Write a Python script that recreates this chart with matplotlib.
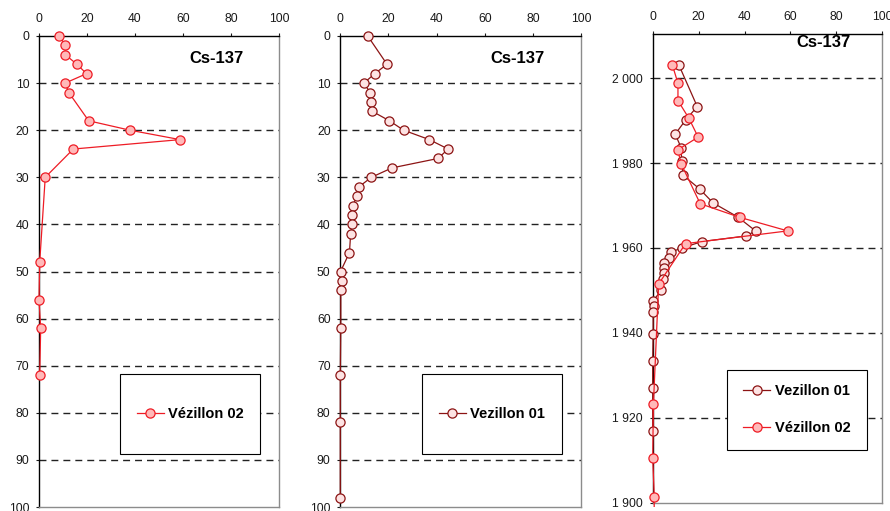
import matplotlib
matplotlib.use("Agg")
import matplotlib.pyplot as plt
from matplotlib.patches import Rectangle
from matplotlib.lines import Line2D

plt.rcParams['font.family'] = ['Liberation Sans', 'DejaVu Sans']

# Cs-137 activity profiles
v02_depth = [0, 2, 4, 6, 8, 10, 12, 18, 20, 22, 24, 30, 48, 56, 62, 72]
v02_cs = [8.5, 11.0, 11.0, 15.8, 19.8, 10.9, 12.4, 20.7, 37.9, 58.8, 14.3, 2.6, 0.3, 0.0, 0.7, 0.3]
v02_year = [2003.2, 1998.8, 1994.7, 1990.5, 1986.1, 1983.1, 1979.8, 1970.4,
            1967.2, 1964.0, 1961.0, 1951.5, 1923.1, 1910.5, 1901.2, 1885.0]

v01_depth = [0, 6, 8, 10, 12, 14, 16, 18, 20, 22, 24, 26, 28, 30, 32, 34, 36,
             38, 40, 42, 46, 50, 52, 54, 62, 72, 82, 98]
v01_cs = [11.4, 19.4, 14.3, 9.8, 12.4, 12.6, 13.3, 20.4, 26.3, 37.0, 44.8, 40.6,
          21.5, 12.9, 7.8, 7.0, 5.1, 4.9, 5.0, 4.3, 3.8, 0.1, 0.5, 0.2, 0.2, 0.0, 0.0, 0.0]
v01_year = [2003.1, 1993.3, 1990.1, 1986.8, 1983.6, 1980.5, 1977.1, 1973.9,
            1970.6, 1967.3, 1964.0, 1962.8, 1961.5, 1960.0, 1959.0, 1957.7,
            1956.5, 1955.3, 1954.1, 1952.6, 1950.0, 1947.5, 1946.4, 1945.0,
            1939.8, 1933.3, 1927.0, 1916.8]

x_ticks = [0, 20, 40, 60, 80, 100]
depth_ticks = list(range(0, 101, 10))
year_ticks = list(range(1900, 2001, 20))
year_labels = [f"{y // 1000} {y % 1000:03d}" for y in year_ticks]

label_01 = "Vezillon 01"
label_02 = "Vézillon 02"
title = "Cs-137"

style_01 = dict(color='#8C1414', lw=0.9, marker='o', ms=6.6,
                mfc='#FDE3E3', mec='#8C1414', mew=0.9)
style_02 = dict(color='#EE1C25', lw=0.9, marker='o', ms=6.6,
                mfc='#FFB9B9', mec='#EE1C25', mew=0.9)

W, H = 890, 511
fig = plt.figure(figsize=(W / 100, H / 100), dpi=100)


def px_axes(x0, x1, y0, y1):
    return fig.add_axes([x0 / W, 1 - y1 / H, (x1 - x0) / W, (y1 - y0) / H])


def style_axes(ax, grid_vals):
    ax.xaxis.tick_top()
    ax.set_xlim(0, 100)
    ax.set_xticks(x_ticks)
    ax.tick_params(axis='x', direction='out', length=2.5, width=0.8,
                   labelsize=8.7, pad=5.5, colors='#1a1a1a')
    ax.tick_params(axis='y', direction='out', length=2.5, width=0.8,
                   labelsize=8.7, pad=4.5, colors='#1a1a1a')
    for side in ('left', 'top'):
        ax.spines[side].set_color('black')
        ax.spines[side].set_linewidth(1.0)
    for side in ('right', 'bottom'):
        ax.spines[side].set_color('#8C8C8C')
        ax.spines[side].set_linewidth(1.0)
    for v in grid_vals:
        ax.axhline(v, color='#222222', lw=1.0, ls=(0, (5.0, 3.6)), zorder=1)


def plot_profile(ax, x, y, style):
    # markers on the frame stay whole; the line is cut just past the frame
    line, = ax.plot(x, y, zorder=3, **style)
    clip = Rectangle((-0.1, -0.01), 1.2, 1.03, transform=ax.transAxes,
                     visible=False)
    ax.add_patch(clip)
    line.set_clip_path(clip)
    return line


def add_legend(ax, handles, box, spacing=0.5):
    x0, x1, y0, y1 = box
    ax.add_patch(Rectangle((x0, y0), x1 - x0, y1 - y0, transform=ax.transAxes,
                           facecolor='white', edgecolor='black', lw=0.8,
                           zorder=4, clip_on=False))
    ax.legend(handles=handles, loc='center',
              bbox_to_anchor=((x0 + x1) / 2, (y0 + y1) / 2),
              bbox_transform=ax.transAxes, frameon=False,
              prop={'weight': 'bold', 'size': 10.5}, handlelength=1.85,
              handletextpad=0.3, labelspacing=spacing, numpoints=1,
              borderaxespad=0)


h01 = Line2D([], [], **style_01, label=label_01)
h02 = Line2D([], [], **style_02, label=label_02)

# Panel 1: Vézillon 02 against depth
ax1 = px_axes(39, 279, 36, 507)
style_axes(ax1, depth_ticks[1:-1])
ax1.set_ylim(100, 0)
ax1.set_yticks(depth_ticks)
plot_profile(ax1, v02_cs, v02_depth, style_02)
ax1.text(0.74, 0.953, title, transform=ax1.transAxes, ha='center',
         va='center', fontsize=12, weight='bold')
add_legend(ax1, [h02], (0.339, 0.92, 0.1125, 0.282))

# Panel 2: Vezillon 01 against depth
ax2 = px_axes(340.3, 581, 36, 507)
style_axes(ax2, depth_ticks[1:-1])
ax2.set_ylim(100, 0)
ax2.set_yticks(depth_ticks)
plot_profile(ax2, v01_cs, v01_depth, style_01)
ax2.text(0.738, 0.953, title, transform=ax2.transAxes, ha='center',
         va='center', fontsize=12, weight='bold')
add_legend(ax2, [h01], (0.341, 0.92, 0.1125, 0.282))

# Panel 3: both cores against dated year
ax3 = px_axes(652.7, 882.3, 34, 502.5)
style_axes(ax3, year_ticks[1:])
ax3.set_ylim(1900, 2010.4)
ax3.set_yticks(year_ticks)
ax3.set_yticklabels(year_labels)
plot_profile(ax3, v01_cs, v01_year, style_01)
plot_profile(ax3, v02_cs, v02_year, style_02)
ax3.text(0.742, 0.981, title, transform=ax3.transAxes, ha='center',
         va='center', fontsize=12, weight='bold')
add_legend(ax3, [h01, h02], (0.325, 0.932, 0.112, 0.2836), spacing=1.6)

fig.savefig("out.png", dpi=100)
